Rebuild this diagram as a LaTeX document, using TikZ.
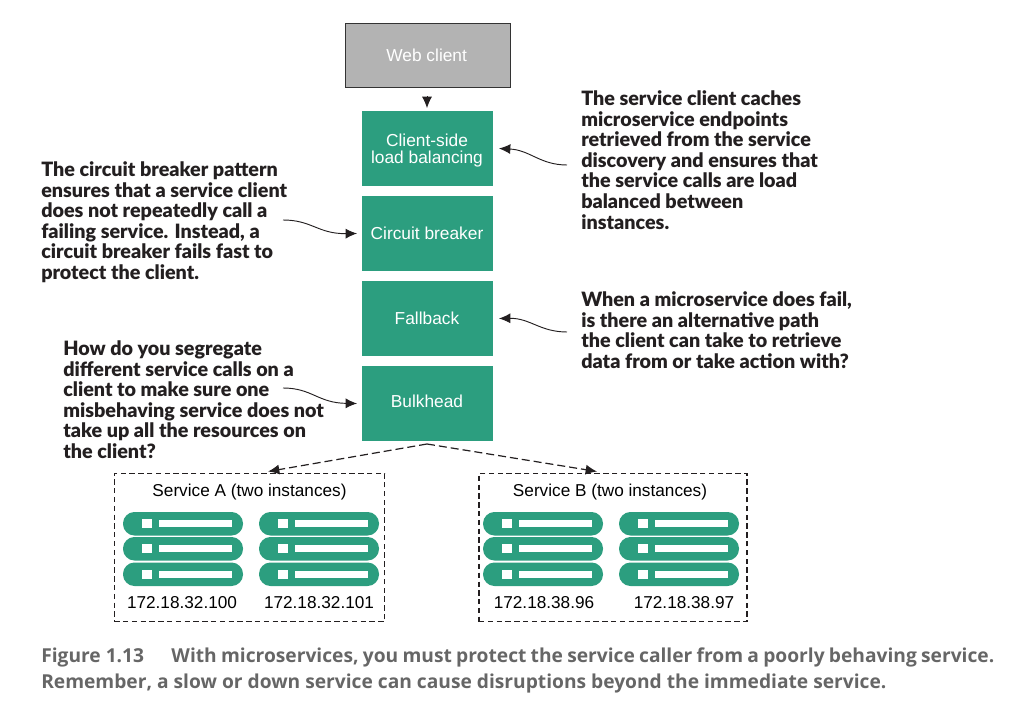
\documentclass[tikz,border=0pt]{standalone}
\usepackage{fontspec}
\setmainfont{Liberation Sans}
\newfontfamily\annotfont[BoldFont={Lato Black}]{Lato}
\newfontfamily\capfont{Open Sans}
\usetikzlibrary{arrows.meta}
\definecolor{grn}{HTML}{2C9E7F}
\definecolor{gry}{HTML}{B3B3B3}
\definecolor{capgray}{HTML}{666666}
\definecolor{ink}{HTML}{231F20}
\tikzset{
  x=0.75pt,y=-0.75pt,
  tip/.style={-{Latex[length=8.5pt,width=7.5pt]}},
  greenbox/.style={fill=grn,text=white,minimum width=98.25pt,minimum height=56.25pt,inner sep=0pt,font=\fontsize{13}{12.6}\selectfont,align=center},
  webbox/.style={fill=gry,draw=black!80,line width=0.9pt,text=white,minimum width=124pt,minimum height=48.5pt,inner sep=0pt,font=\fontsize{13}{14}\selectfont},
  note/.style={anchor=north west,inner sep=0pt,align=left,text=ink,font=\annotfont\bfseries\fontsize{14.8}{15.45}\selectfont},
  curveline/.style={tip,draw=ink,line width=0.7pt},
  dashline/.style={tip,draw=ink,line width=0.9pt,dash pattern=on 6pt off 3pt},
  svcbox/.style={draw=ink,line width=0.9pt,dash pattern=on 4pt off 2.6pt,minimum width=203pt,minimum height=111pt,inner sep=0pt},
  plain/.style={inner sep=0pt,text=black,font=\fontsize{12.9}{14}\selectfont},
  caption/.style={anchor=north west,inner sep=0pt,align=left,text=capgray,font=\capfont\bfseries\fontsize{14.4}{19.5}\selectfont},
}
\newcommand{\pill}[2]{%
  \fill[grn,rounded corners=8.6pt] (#1,#2) rectangle (#1+120,#2+23.5);
  \fill[white] (#1+19,#2+7.2) rectangle (#1+29,#2+16.3);
  \fill[white] (#1+36,#2+8) rectangle (#1+109,#2+15.2);
}
\newcommand{\rack}[1]{\pill{#1}{512}\pill{#1}{537}\pill{#1}{562.5}}
\begin{document}
\begin{tikzpicture}
\useasboundingbox (0,0) rectangle (1014,716);
% stack
\node[webbox] (web) at (428,55.5) {\hspace{-2pt}Web client};
\node[greenbox] (lb) at (427,148.5) {\rule{0pt}{12pt}Client-side\\[0pt]load balancing};
\node[greenbox] (cb) at (427,233.5) {Circuit breaker};
\node[greenbox] (fb) at (427,318.5) {Fallback};
\node[greenbox,text height=11pt,text depth=5pt] (bh) at (427,403.5) {Bulkhead};
% annotations
\node[note] (n1) at (581,90.5) {The service client caches\\microservice endpoints\\retrieved from the service\\discovery and ensures that\\the service calls are load\\balanced between\\instances.};
\node[note] (n2) at (41,161.5) {The circuit breaker pattern\\ensures that a service client\\does not repeatedly call a\\failing service. Instead, a\\circuit breaker fails fast to\\protect the client.};
\node[note] (n3) at (581,291.5) {When a microservice does fail,\\is there an alternative path\\the client can take to retrieve\\data from or take action with?};
\node[note] (n4) at (63,340.5) {How do you segregate\\different service calls on a\\client to make sure one\\misbehaving service does not\\take up all the resources on\\the client?};
% services
\node[svcbox] (sa) at (249.5,547.5) {};
\node[svcbox,minimum width=201pt] (sb) at (613,547.5) {};
\node[plain] (sat) at (249.5,492) {Service A (two instances)};
\node[plain] (sbt) at (610,492) {Service B (two instances)};
\rack{123}\rack{259}\rack{483}\rack{619}
\node[plain] (a1) at (182,603) {172.18.32.100};
\node[plain] (a2) at (319,603) {172.18.32.101};
\node[plain] (b1) at (544,603) {172.18.38.96};
\node[plain] (b2) at (684,603) {172.18.38.97};
% free ends
\coordinate (c1) at (567,165);
\coordinate (c2) at (283,220);
\coordinate (c3) at (567,332);
\coordinate (c4) at (283,388);
\coordinate (ta) at (268,471.5);
\coordinate (tb) at (597,471.5);
\coordinate (o) at (427,444);
% connectors
\draw[tip,draw=ink,line width=0.7pt,shorten <=6pt,shorten >=2pt] (web.south -| lb.north) -- (lb.north);
\draw[curveline] (c1) .. controls (540,165) and (530,150) .. (lb.east -| 499,148);
\draw[curveline] (c2) .. controls (312,220) and (318,234) .. (cb.west -| 357,234);
\draw[curveline] (c3) .. controls (540,332) and (530,318) .. (fb.east -| 499,318);
\draw[curveline] (c4) .. controls (312,388) and (318,403) .. (bh.west -| 357,403);
\draw[dashline] (o) -- (ta);
\draw[dashline] (o) -- (tb);
% caption
\node[caption] (cap) at (41,647.5) {Figure 1.13\hspace{20.5pt}{\spaceskip=3.2pt With microservices, you must protect the service caller from a poorly behaving service.}\\Remember, a slow or down service can cause disruptions beyond the immediate service.};
\end{tikzpicture}
\end{document}
